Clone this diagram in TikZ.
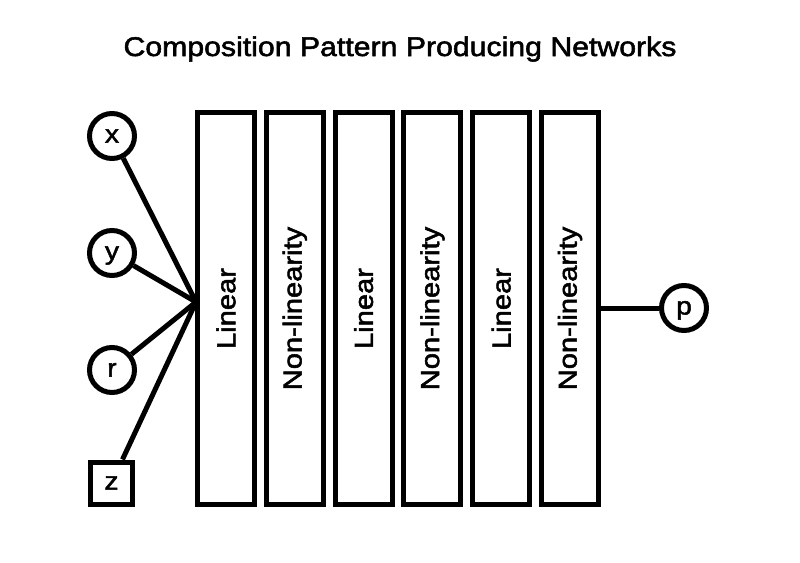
\documentclass[tikz,border=0pt]{standalone}
\usepackage{fontspec}
\setmainfont{Liberation Sans}[FakeStretch=1.12, BoldFont=Liberation Sans, BoldFeatures={FakeBold=2}]
\usepackage{tikz}
\usetikzlibrary{positioning}

\begin{document}
\begin{tikzpicture}[x=1pt, y=-1pt, node distance=6.8pt,
  layer/.style={draw, line width=5pt, minimum width=57pt, minimum height=392pt,
    inner sep=0pt, font=\fontsize{26}{30}\selectfont\bfseries},
  invar/.style={draw, circle, line width=5pt, minimum size=45pt, inner sep=0pt,
    text height=13pt, text depth=0pt, font=\fontsize{25}{30}\selectfont\bfseries},
  inbox/.style={draw, rectangle, line width=5pt, minimum size=42pt, inner sep=0pt,
    text height=13pt, text depth=0pt, font=\fontsize{25}{30}\selectfont\bfseries},
  link/.style={line width=5pt}]
  \useasboundingbox (0,0) rectangle (800,562);
  \node[anchor=base, font=\fontsize{27}{32}\selectfont\bfseries] (title) at (400,56) {Composition Pattern Producing Networks};
  % layers
  \node[layer] (lin1) at (226,308.5) {\rotatebox{90}{Linear}};
  \node[layer, right=of lin1] (nl1) {\rotatebox{90}{Non-linearity}};
  \node[layer, right=of nl1] (lin2) {\rotatebox{90}{Linear}};
  \node[layer, right=of lin2] (nl2) {\rotatebox{90}{Non-linearity}};
  \node[layer, right=of nl2] (lin3) {\rotatebox{90}{Linear}};
  \node[layer, right=of lin3] (nl3) {\rotatebox{90}{Non-linearity}};
  % inputs and output
  \node[invar] (x) at (112,136) {x};
  \node[invar] (y) at (112,253) {y};
  \node[invar] (r) at (112,370) {r};
  \node[inbox] (z) at (111.5,483) {z};
  \node[invar] (p) at (684,308) {p};
  \coordinate (hub) at (196,302);
  \foreach \v in {x,y,r,z}
    \draw[link] (\v) -- (hub);
  \draw[link] (nl3.east |- p) -- (p);
\end{tikzpicture}
\end{document}
